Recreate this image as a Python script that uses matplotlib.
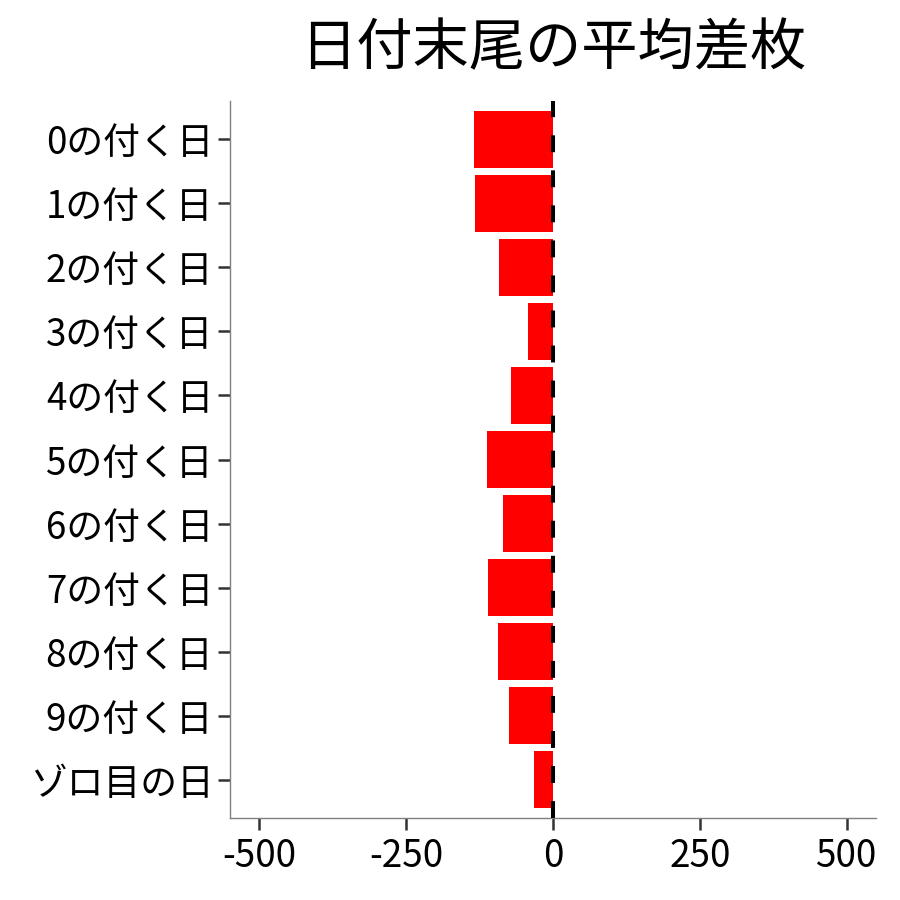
import matplotlib
matplotlib.use("Agg")
import matplotlib.pyplot as plt

plt.rcParams['font.family'] = ['Noto Sans CJK JP', 'DejaVu Sans']

categories = ["0の付く日", "1の付く日", "2の付く日", "3の付く日", "4の付く日",
              "5の付く日", "6の付く日", "7の付く日", "8の付く日", "9の付く日", "ゾロ目の日"]
values = [-134, -133, -92, -42, -71, -112, -85, -110, -93, -75, -32]
xticks = [-500, -250, 0, 250, 500]
title = "日付末尾の平均差枚"

fig = plt.figure(figsize=(9, 9), dpi=100)
ax = fig.add_axes([230/900, 1-818/900, (876-230)/900, (818-101)/900])

ypos = list(range(len(categories)))
ax.barh(ypos, values, height=0.9, color="#FF0000", zorder=2)
ax.axvline(0, color="black", linewidth=2.9, dashes=(4.2, 4.5), zorder=3)

ax.set_xlim(-550, 550)
ax.set_ylim(len(categories) - 0.4, -0.6)
ax.set_yticks(ypos)
ax.set_yticklabels(categories)
ax.set_xticks(xticks)
ax.set_xticklabels([str(v) for v in xticks])

for s in ["top", "right"]:
    ax.spines[s].set_visible(False)
for s in ["left", "bottom"]:
    ax.spines[s].set_color("#808080")
    ax.spines[s].set_linewidth(1.0)

ax.tick_params(axis="both", length=8.5, width=1.8, color="#333333",
               labelsize=26.5, labelcolor="black")
ax.tick_params(axis="y", pad=3.5)
ax.tick_params(axis="x", pad=5)

ax.set_title(title, fontsize=40.5, pad=26)

fig.savefig("out.png", dpi=100, facecolor="white")
